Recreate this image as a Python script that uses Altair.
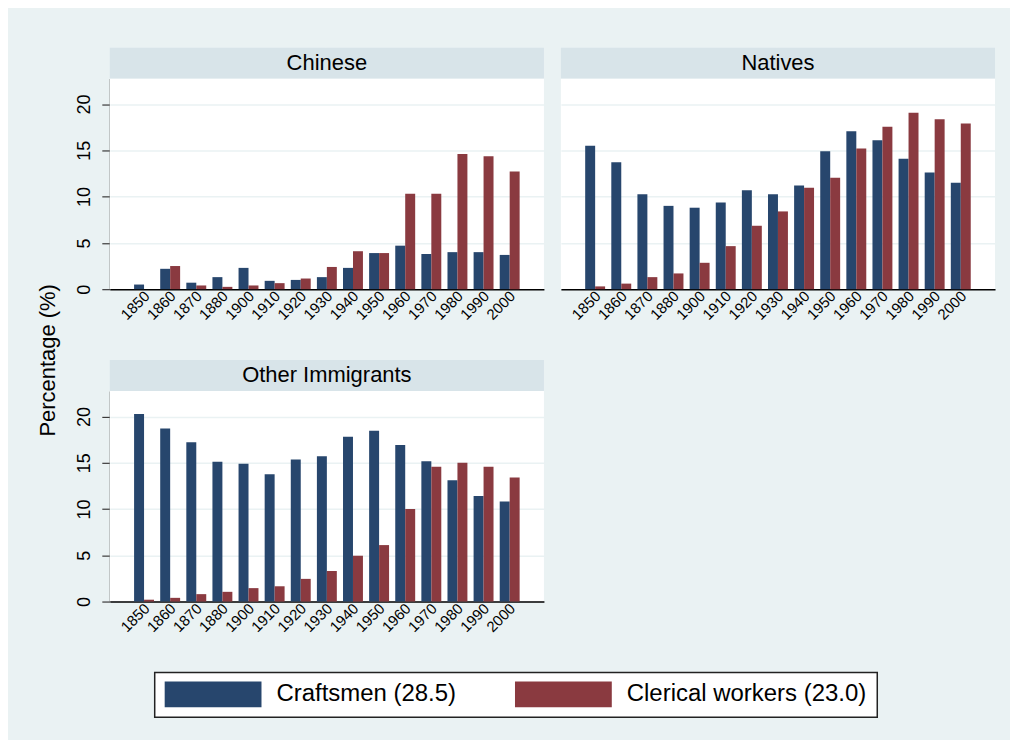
import altair as alt
import pandas as pd

FONT = "Liberation Sans"
BG = "#EAF2F3"
STRIP = "#D8E4E9"

years = ['1850', '1860', '1870', '1880', '1900', '1910', '1920', '1930',
         '1940', '1950', '1960', '1970', '1980', '1990', '2000']
groups = ['Chinese', 'Natives', 'Other Immigrants']
series = ['Craftsmen (28.5)', 'Clerical workers (23.0)']
colors = ['#27466D', '#8A3A40']

chinese_craft = [0.5, 2.2, 0.7, 1.3, 2.3, 0.9, 1.0, 1.3, 2.3, 3.9, 4.7, 3.8, 4.0, 4.0, 3.7]
chinese_cler = [0.0, 2.5, 0.4, 0.25, 0.4, 0.65, 1.15, 2.4, 4.1, 3.9, 10.3, 10.3, 14.6, 14.35, 12.7]
natives_craft = [15.5, 13.7, 10.25, 9.0, 8.8, 9.35, 10.7, 10.25, 11.2, 14.9, 17.05, 16.1, 14.1, 12.6, 11.5]
natives_cler = [0.3, 0.6, 1.3, 1.7, 2.85, 4.65, 6.85, 8.4, 10.95, 12.05, 15.2, 17.55, 19.05, 18.35, 17.9]
other_craft = [20.25, 18.7, 17.2, 15.1, 14.9, 13.75, 15.35, 15.7, 17.8, 18.45, 16.9, 15.15, 13.1, 11.4, 10.8]
other_cler = [0.2, 0.4, 0.8, 1.05, 1.45, 1.65, 2.45, 3.3, 4.95, 6.1, 10.0, 14.55, 15.0, 14.55, 13.4]

table = {
    'Chinese': (chinese_craft, chinese_cler),
    'Natives': (natives_craft, natives_cler),
    'Other Immigrants': (other_craft, other_cler),
}
rows = []
for g in groups:
    craft, cler = table[g]
    for i, y in enumerate(years):
        rows.append({'group': g, 'year': y, 'series': series[0], 'value': craft[i]})
        rows.append({'group': g, 'year': y, 'series': series[1], 'value': cler[i]})
df = pd.DataFrame(rows)

W, H = 435, 211

bars = alt.Chart().mark_bar().encode(
    x=alt.X('year:N', sort=years,
            scale=alt.Scale(paddingInner=0.237, paddingOuter=0.93),
            axis=alt.Axis(title=None, labelAngle=315, labelAlign='right',
                          labelBaseline='middle', labelFontSize=15, labelFont=FONT,
                          labelColor='black', ticks=False, domainColor='black',
                          domainWidth=1.5, grid=False, labelPadding=4, labelOffset=3)),
    xOffset=alt.XOffset('series:N', sort=series,
                        scale=alt.Scale(paddingInner=0, paddingOuter=0)),
    y=alt.Y('value:Q', scale=alt.Scale(domain=[0, 22.75], nice=False),
            axis=alt.Axis(title=None, values=[0, 5, 10, 15, 20], labelAngle=270,
                          labelAlign='center', labelBaseline='alphabetic',
                          labelFontSize=18, labelFont=FONT, labelColor='black',
                          labelPadding=12, tickSize=8, tickColor='#3a3a3a',
                          tickWidth=1.2, domainColor='#3a3a3a', domainWidth=1.2,
                          gridColor=BG, gridWidth=1.5)),
    color=alt.Color('series:N', sort=series,
                    scale=alt.Scale(domain=series, range=colors),
                    legend=alt.Legend(title=None, orient='none', legendX=45, legendY=595,
                                      direction='horizontal',
                                      symbolType='M-1,-1.083H7.083V1.083H-1Z',
                                      symbolSize=576, symbolStrokeWidth=0,
                                      labelFontSize=24, labelFont=FONT,
                                      labelColor='black', labelOffset=88,
                                      labelLimit=500, columnPadding=58,
                                      padding=10, fillColor='white',
                                      strokeColor='#222222')),
)

strip_rect = alt.Chart().transform_aggregate(
    n='count()', groupby=['group']
).mark_rect(color=STRIP).encode(
    x=alt.value(0), x2=alt.value(W), y=alt.value(-31), y2=alt.value(0)
)

strip_text = alt.Chart().transform_aggregate(
    n='count()', groupby=['group']
).mark_text(fontSize=22, font=FONT, color='black', baseline='middle', align='center').encode(
    x=alt.value(W / 2), y=alt.value(-15.5), text='group:N'
)

cell = alt.layer(bars, strip_rect, strip_text).properties(width=W, height=H)

chart = cell.facet(
    facet=alt.Facet('group:N', sort=groups,
                    header=alt.Header(labels=False, labelFontSize=1, labelPadding=0,
                                      labelColor=BG, title=None)),
    columns=2,
    data=df,
    spacing={'row': 102, 'column': 17},
    bounds='flush',
).resolve_axis(
    x='independent'
).properties(
    title=alt.TitleParams(text='Percentage (%)', orient='left', anchor='middle',
                          fontSize=22, fontWeight='normal', font=FONT, color='black',
                          offset=16, frame='bounds', dx=22),
    padding={'left': 28, 'top': 38, 'right': 15, 'bottom': 21},
    background=BG,
).configure_view(
    stroke=None, fill='white'
).configure_header(
    labels=False
).configure_legend(
    strokeWidth=1.5
)

chart.save("out.html", embed_options={"renderer": "svg", "actions": False})
